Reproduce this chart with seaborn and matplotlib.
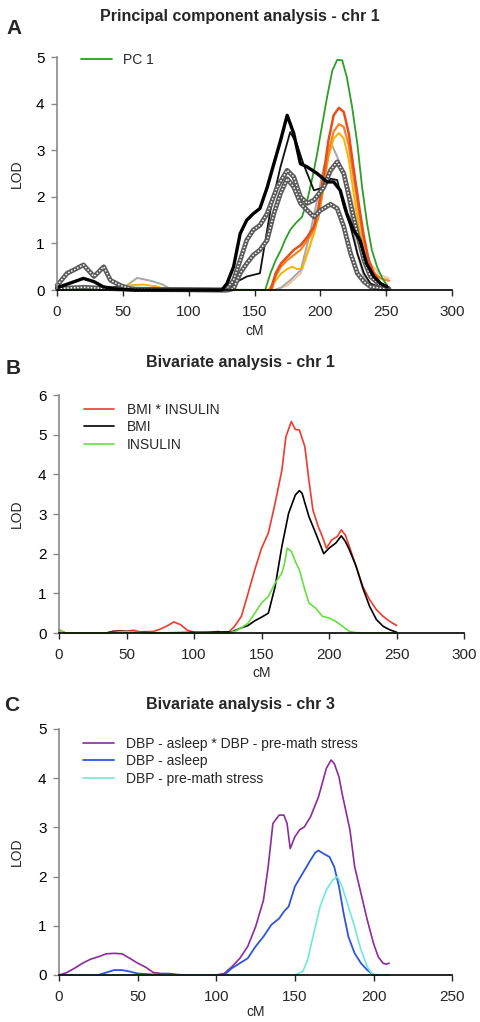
import numpy as np
import pandas as pd
import matplotlib
matplotlib.use("Agg")
import matplotlib.pyplot as plt
import seaborn as sns

# ---------------- Panel A data (chr 1, principal components) ----------------
a_pc1_x = [0, 100, 158, 162, 166, 170, 173, 177, 181, 186, 190, 194, 197.5, 201, 205, 209, 212.7, 216.5, 220, 224, 228, 231.6, 235.4, 239, 243, 247, 250.6]
a_pc1_y = [0, 0, 0, 0.36, 0.64, 0.86, 1.07, 1.29, 1.43, 1.57, 1.93, 2.43, 2.93, 3.5, 4.14, 4.71, 4.94, 4.93, 4.57, 3.93, 3.14, 2.21, 1.43, 0.86, 0.5, 0.25, 0.1]

a_red_x = [162, 166, 170, 174.7, 179.7, 184.8, 190, 195, 198.7, 202.5, 206, 210, 214, 217.7, 221.5, 225, 229, 233, 236.7, 240.5, 245.6, 250.6]
a_red_y = [0, 0.36, 0.57, 0.71, 0.86, 0.96, 1.14, 1.36, 1.79, 2.5, 3.2, 3.75, 3.91, 3.82, 3.36, 2.64, 1.86, 1.14, 0.64, 0.36, 0.14, 0.07]

a_orange_x = [163, 166, 170, 174.7, 179.7, 184.8, 190, 195, 198.7, 202.5, 206, 210, 214, 217.7, 221.5, 225, 229, 233, 236.7, 240.5, 245.6, 252]
a_orange_y = [0, 0.3, 0.5, 0.64, 0.75, 0.86, 1.07, 1.29, 1.6, 2.3, 2.95, 3.4, 3.56, 3.5, 3.1, 2.45, 1.7, 1.0, 0.6, 0.38, 0.25, 0.2]

a_yellow_x = [0, 20, 45, 55, 65, 75, 85, 160, 164.6, 170, 174.7, 178.5, 182, 186, 190, 195, 198.7, 202.5, 206, 210, 214, 217.7, 221.5, 225, 229, 233, 236.7, 240.5, 245.6, 250]
a_yellow_y = [0, 0.02, 0.05, 0.1, 0.12, 0.08, 0, 0, 0.15, 0.35, 0.45, 0.5, 0.45, 0.45, 0.8, 1.2, 1.6, 2.2, 2.85, 3.25, 3.37, 3.25, 2.8, 2.1, 1.4, 0.8, 0.4, 0.2, 0.1, 0.03]

a_lgray_x = [0, 40, 52, 60.8, 71, 80, 86, 165, 170, 177, 185, 192, 197.5, 202.5, 208.6, 212.7, 217.7, 222.8, 227.8, 233, 238, 245]
a_lgray_y = [0, 0.02, 0.08, 0.26, 0.2, 0.12, 0.02, 0, 0.05, 0.21, 0.43, 1.21, 1.93, 2.64, 3.12, 2.86, 2.5, 1.64, 0.79, 0.29, 0.1, 0]

a_peach_x = [0, 10, 30, 130, 165, 175, 185, 192, 200, 207.6, 212.7, 217.7, 222.8, 230, 238, 245.6, 252]
a_peach_y = [0.1, 0.03, 0, 0, 0, 0.1, 0.36, 0.93, 2.07, 2.5, 2.71, 2.57, 2.07, 1.21, 0.57, 0.32, 0.25]

a_bdot_x = [0, 10, 20, 28, 35, 45, 60, 125, 129, 134, 139, 144, 149, 154, 159.5, 164.6, 169.6, 174.7, 179.7, 184.8, 190, 197.5, 205, 210, 215, 220, 225, 230, 235, 240.5, 245.6, 250.6]
a_bdot_y = [0.05, 0.15, 0.25, 0.18, 0.07, 0.02, 0, 0, 0.14, 0.5, 1.21, 1.5, 1.64, 1.75, 2.2, 2.71, 3.2, 3.75, 3.36, 2.71, 2.64, 2.5, 2.32, 2.32, 2.14, 1.64, 1.29, 1.07, 0.57, 0.29, 0.14, 0.07]

a_bthin_x = [0, 20, 50, 70, 130, 134, 144, 154, 162, 169.6, 177, 182, 187, 195, 202.5, 207.6, 212.7, 217.7, 222.8, 228, 233, 238, 248]
a_bthin_y = [0, 0.05, 0.07, 0.02, 0, 0.14, 0.29, 0.36, 1.71, 2.64, 3.39, 3.14, 2.71, 2.14, 2.2, 2.39, 2.36, 1.79, 1.36, 0.79, 0.36, 0.14, 0.03]

a_grayA_x = [0, 20, 40, 60, 128, 134, 139, 144, 149, 154, 159.5, 167, 174.7, 179.7, 184.8, 190, 195, 202.5, 207.6, 212.7, 217.7, 222.8, 228, 233, 238, 245.6, 252]
a_grayA_y = [0.03, 0.06, 0.03, 0.01, 0, 0.21, 0.64, 1.07, 1.29, 1.39, 1.64, 2.2, 2.57, 2.43, 2.0, 1.86, 1.93, 2.2, 2.57, 2.75, 2.5, 1.86, 1.21, 0.64, 0.29, 0.1, 0.03]

a_grayB_x = [0, 7.6, 14, 20, 28, 35.4, 40.5, 48, 56, 130, 134, 139, 144, 149, 154, 159.5, 164.6, 169.6, 174.7, 179.7, 184.8, 190, 195, 200, 207.6, 212.7, 217.7, 222.8, 228, 233, 238, 250]
a_grayB_y = [0.1, 0.36, 0.45, 0.54, 0.29, 0.5, 0.21, 0.1, 0.02, 0, 0.03, 0.36, 0.57, 0.75, 0.86, 1.07, 1.64, 2.07, 2.39, 2.21, 1.86, 1.71, 1.57, 1.71, 1.84, 1.75, 1.36, 0.79, 0.36, 0.18, 0.07, 0.02]

# ---------------- Panel B data (chr 1, bivariate) ----------------
b_int_x = [0, 5, 35, 40, 45, 50, 55, 60, 70, 75, 80, 85, 90, 95, 100, 110, 118, 121, 125, 130, 135, 140, 145, 150, 155, 160, 165, 168, 172, 175, 178, 182, 185, 188, 192, 195, 198, 202, 206, 209, 212, 215, 220, 225, 230, 235, 240, 245, 250]
b_int_y = [0.08, 0, 0, 0.04, 0.06, 0.04, 0.07, 0.03, 0.04, 0.1, 0.18, 0.28, 0.21, 0.07, 0.02, 0, 0.04, 0, 0, 0.17, 0.42, 1.0, 1.6, 2.14, 2.52, 3.27, 4.1, 4.95, 5.33, 5.13, 5.12, 4.7, 3.86, 3.1, 2.68, 2.43, 2.14, 2.35, 2.43, 2.6, 2.47, 2.18, 1.68, 1.17, 0.84, 0.59, 0.42, 0.29, 0.19]

b_bmi_x = [35, 40, 50, 60, 70, 128, 135, 140, 145, 150, 155, 160, 165, 170, 175, 178, 180, 185, 190, 196, 200, 205, 209, 212, 215, 220, 225, 230, 235, 240, 245, 250]
b_bmi_y = [0, 0.04, 0.04, 0.02, 0, 0.03, 0.13, 0.19, 0.31, 0.4, 0.5, 1.17, 2.18, 3.02, 3.48, 3.59, 3.52, 2.94, 2.52, 2.0, 2.14, 2.27, 2.45, 2.31, 2.1, 1.68, 1.13, 0.67, 0.34, 0.17, 0.08, 0.02]

b_ins_x = [0, 5, 35, 45, 55, 65, 125, 130, 135, 140, 145, 150, 155, 160, 165, 167, 169, 172, 175, 178, 182, 185, 190, 195, 200, 205, 210, 215, 220, 230, 250]
b_ins_y = [0.08, 0, 0, 0.03, 0.03, 0, 0, 0.04, 0.13, 0.25, 0.5, 0.76, 0.92, 1.26, 1.51, 1.76, 2.14, 2.06, 1.8, 1.59, 1.09, 0.76, 0.63, 0.42, 0.38, 0.29, 0.17, 0.04, 0.01, 0, 0]

# ---------------- Panel C data (chr 3, bivariate) ----------------
c_int_x = [0, 5, 10, 15, 20, 25, 30, 35, 40, 45, 50, 55, 60, 65, 70, 75, 80, 100, 105, 110, 115, 120, 125, 130, 133, 136, 140, 143, 145, 147, 150, 153, 156, 160, 165, 170, 173, 175, 178, 180, 185, 188, 192, 196, 200, 203, 206, 208, 210]
c_int_y = [0, 0.05, 0.14, 0.24, 0.32, 0.37, 0.43, 0.44, 0.43, 0.34, 0.24, 0.16, 0.05, 0.03, 0.03, 0.01, 0, 0, 0.03, 0.17, 0.34, 0.58, 0.98, 1.52, 2.2, 3.08, 3.25, 3.25, 3.08, 2.57, 2.81, 2.95, 3.01, 3.22, 3.62, 4.2, 4.37, 4.3, 4.03, 3.69, 2.95, 2.2, 1.66, 1.12, 0.64, 0.37, 0.24, 0.22, 0.24]

c_asl_x = [0, 25, 30, 35, 40, 45, 50, 55, 60, 70, 75, 105, 110, 115, 120, 125, 130, 135, 140, 143, 146, 150, 155, 160, 163, 165, 168, 172, 175, 178, 181, 184, 188, 192, 196, 200, 210]
c_asl_y = [0, 0, 0.05, 0.1, 0.1, 0.07, 0.03, 0.02, 0.01, 0.02, 0, 0, 0.14, 0.24, 0.34, 0.58, 0.78, 1.02, 1.15, 1.29, 1.39, 1.8, 2.07, 2.34, 2.49, 2.53, 2.47, 2.4, 2.2, 1.8, 1.25, 0.78, 0.44, 0.24, 0.1, 0, 0]

c_str_x = [0, 150, 155, 158, 162, 166, 170, 174, 177, 180, 184, 188, 192, 196, 199, 205, 210]
c_str_y = [0, 0, 0.07, 0.3, 0.85, 1.39, 1.73, 1.93, 2.0, 1.8, 1.39, 0.98, 0.51, 0.17, 0.02, 0, 0]

x_ticks_ab = [0, 50, 100, 150, 200, 250, 300]
x_ticks_c = [0, 50, 100, 150, 200, 250]

sns.set_style("ticks")
plt.rcParams['font.family'] = ['Liberation Sans', 'DejaVu Sans']

fig = plt.figure(figsize=(4.8, 10.22), dpi=100)
H = 1022.0

def style_axes(ax, xmax, ymax, xticks):
    ax.set_xlim(0, xmax)
    ax.set_ylim(0, ymax)
    ax.set_xticks(xticks)
    ax.set_yticks(range(0, ymax + 1))
    sns.despine(ax=ax)
    ax.spines['left'].set_color('#8a8a8a')
    ax.spines['left'].set_linewidth(1.2)
    ax.spines['bottom'].set_color('black')
    ax.spines['bottom'].set_linewidth(1.2)
    ax.tick_params(axis='both', labelsize=11, length=4, width=1, direction='out')
    ax.tick_params(axis='x', pad=7)
    ax.tick_params(axis='y', pad=5, colors='#8a8a8a', labelcolor='black')
    ax.set_xlabel('cM', fontsize=10, labelpad=0)
    ax.set_ylabel('LOD', fontsize=10, labelpad=6)

def line(ax, x, y, **kw):
    sns.lineplot(x=np.array(x, float), y=np.array(y, float), ax=ax, clip_on=False, **kw)

def panel_title(text, ypx):
    fig.text(0.5, 1 - ypx / H, text, fontsize=11.5, fontweight='bold', ha='center', va='center')

def panel_letter(letter, xpx, ypx):
    fig.text(xpx / 480.0, 1 - ypx / H, letter, fontsize=15, fontweight='bold', va='center')

# ---------------- Panel A ----------------
axA = fig.add_axes([0.119, 0.7162, 0.823, 0.228])
line(axA, a_peach_x, a_peach_y, color='#f6c49a', lw=1.4)
line(axA, a_lgray_x, a_lgray_y, color='#a8a8a8', lw=1.4)
line(axA, a_yellow_x, a_yellow_y, color='#f7b500', lw=1.4)
line(axA, a_orange_x, a_orange_y, color='#f58426', lw=1.6)
line(axA, a_red_x, a_red_y, color='#e4501c', lw=1.8)
line(axA, a_pc1_x, a_pc1_y, color='#2e9e26', lw=1.3, label='PC 1')
pc1_handle = axA.lines[-1]
line(axA, a_bthin_x, a_bthin_y, color='#111111', lw=1.3)
for gx, gy in ((a_grayA_x, a_grayA_y), (a_grayB_x, a_grayB_y)):
    line(axA, gx, gy, color='#5a5a5a', lw=3.4)
    line(axA, gx, gy, color='white', lw=1.1, linestyle=(0, (1.0, 1.2)))
line(axA, a_bdot_x, a_bdot_y, color='black', lw=2.4)
style_axes(axA, 300, 5, x_ticks_ab)
axA.xaxis.set_label_coords(0.5, -0.145)
axA.yaxis.set_label_coords(-0.084, 0.5)
axA.legend(handles=[pc1_handle], labels=['PC 1'], loc='upper left', frameon=False,
           fontsize=10, handlelength=2.2, handletextpad=0.8, bbox_to_anchor=(0.03, 1.07))
panel_title('Principal component analysis - chr 1', 17)
panel_letter('A', 6, 28)

# ---------------- Panel B ----------------
axB = fig.add_axes([0.123, 0.3806, 0.844, 0.2329])
line(axB, b_int_x, b_int_y, color='#ee3b2e', lw=1.2, label='BMI * INSULIN')
line(axB, b_bmi_x, b_bmi_y, color='black', lw=1.2, label='BMI')
line(axB, b_ins_x, b_ins_y, color='#66e040', lw=1.2, label='INSULIN')
style_axes(axB, 300, 6, x_ticks_ab)
axB.xaxis.set_label_coords(0.5, -0.14)
axB.yaxis.set_label_coords(-0.086, 0.5)
axB.legend(loc='upper left', frameon=False, fontsize=10, handlelength=2.2, handletextpad=0.9,
           labelspacing=0.25, bbox_to_anchor=(0.03, 1.02))
panel_title('Bivariate analysis - chr 1', 363)
panel_letter('B', 6, 368)

# ---------------- Panel C ----------------
axC = fig.add_axes([0.123, 0.046, 0.819, 0.2407])
line(axC, c_int_x, c_int_y, color='#8b2c9c', lw=1.2, label='DBP - asleep * DBP - pre-math stress')
line(axC, c_asl_x, c_asl_y, color='#2f55dc', lw=1.3, label='DBP - asleep')
line(axC, c_str_x, c_str_y, color='#6eead6', lw=1.2, label='DBP - pre-math stress')
style_axes(axC, 250, 5, x_ticks_c)
axC.xaxis.set_label_coords(0.5, -0.12)
axC.yaxis.set_label_coords(-0.089, 0.5)
axC.legend(loc='upper left', frameon=False, fontsize=10, handlelength=2.2, handletextpad=0.9,
           labelspacing=0.25, bbox_to_anchor=(0.03, 1.02))
panel_title('Bivariate analysis - chr 3', 704)
panel_letter('C', 4, 705)

fig.savefig('out.png', dpi=100)
